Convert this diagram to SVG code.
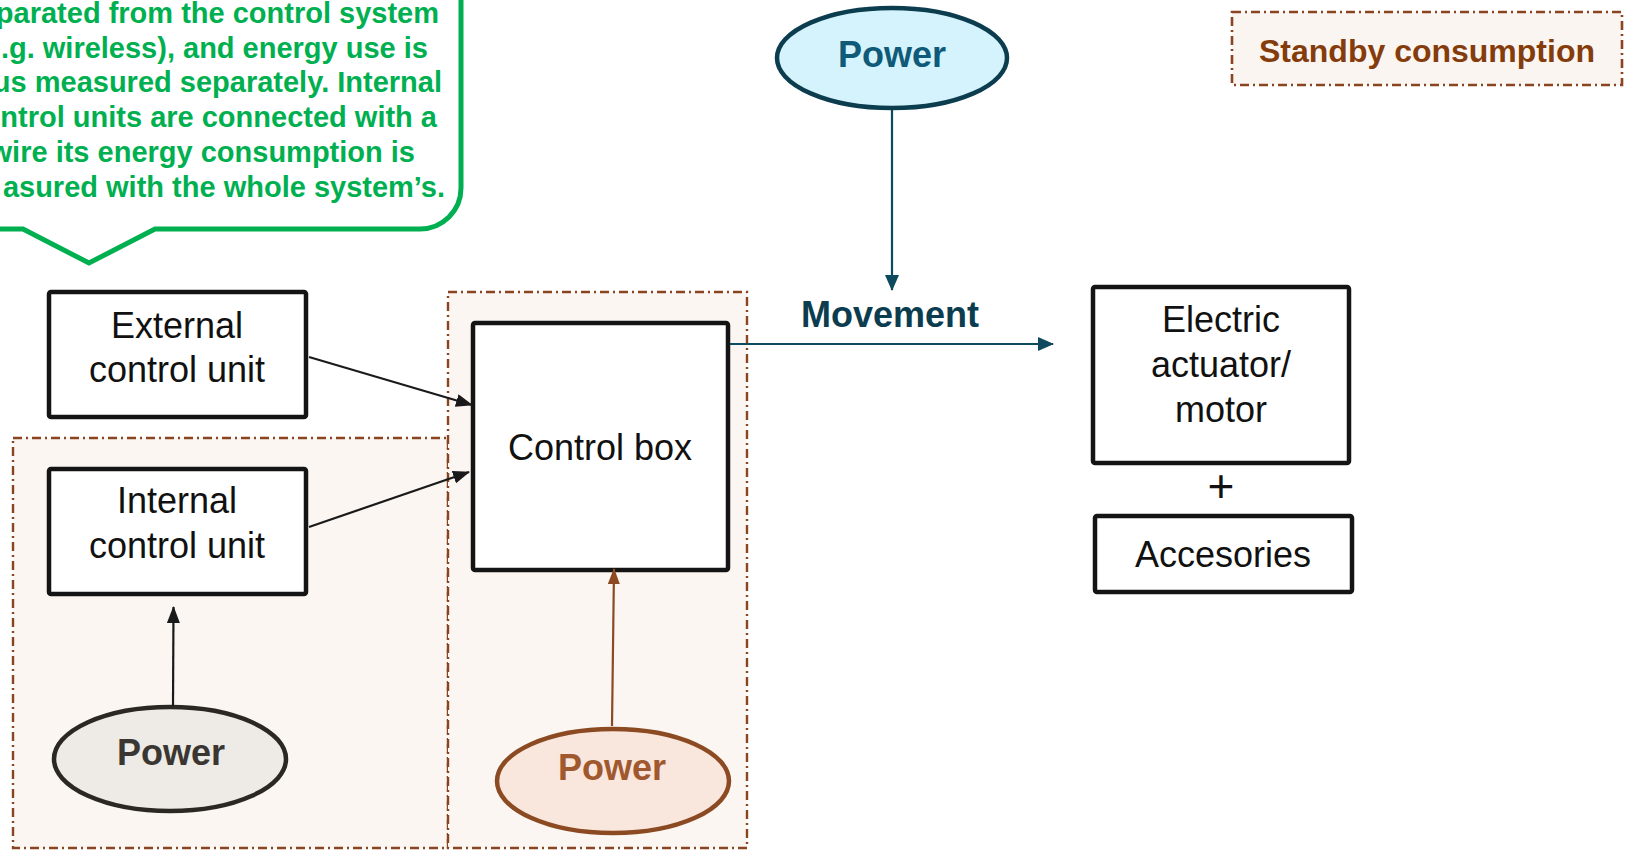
<svg xmlns="http://www.w3.org/2000/svg" width="1629" height="850" viewBox="0 0 1629 850">
  <style>
    .box { fill: #ffffff; stroke: #141414; stroke-width: 4.5; }
    .region { fill: #FBF6F2; stroke: #8A4420; stroke-width: 2.4; stroke-dasharray: 9 4 2 4; }
    .lbl { font-family: "Liberation Sans", Arial, sans-serif; font-size: 36px; fill: #111111; text-anchor: middle; }
    .bold { font-weight: bold; }
    .callout { font-family: "Liberation Sans", Arial, sans-serif; font-size: 29px; font-weight: bold; fill: #00B050; text-anchor: end; }
    .con-black { fill: none; stroke: #1a1a1a; stroke-width: 2.2; }
    .con-teal { fill: none; stroke: #0E4A5E; stroke-width: 2.2; }
    .con-brown { fill: none; stroke: #8B4A22; stroke-width: 2.2; }
  </style>
  <defs>
    <marker id="ah-black" viewBox="0 0 17 13" refX="16" refY="6.5" markerWidth="17" markerHeight="13" markerUnits="userSpaceOnUse" orient="auto">
      <path d="M0,0 L17,6.5 L0,13 z" fill="#1a1a1a"/>
    </marker>
    <marker id="ah-teal" viewBox="0 0 16 14" refX="15" refY="7" markerWidth="16" markerHeight="14" markerUnits="userSpaceOnUse" orient="auto">
      <path d="M0,0 L16,7 L0,14 z" fill="#0E4A5E"/>
    </marker>
    <marker id="ah-brown" viewBox="0 0 16 12" refX="15" refY="6" markerWidth="16" markerHeight="12" markerUnits="userSpaceOnUse" orient="auto">
      <path d="M0,0 L16,6 L0,12 z" fill="#8B4A22"/>
    </marker>
  </defs>

  <rect width="1629" height="850" fill="#ffffff"/>

  <!-- standby regions -->
  <g id="region-internal">
    <rect class="region" x="13" y="438" width="435" height="410"/>
  </g>
  <g id="region-controlbox">
    <rect class="region" x="448" y="292" width="299" height="556"/>
  </g>

  <!-- callout -->
  <g id="callout">
    <path d="M-20,-60 L420,-60 A41,41 0 0 1 461,-19 L461,188 A41,41 0 0 1 420,229 L155,229 L89,263 L23,229 L-20,229 Z" fill="#ffffff" stroke="#00B050" stroke-width="5" stroke-linejoin="miter"/>
    <text class="callout" x="439" y="23">parated from the control system</text>
    <text class="callout" x="428" y="58">.g. wireless), and energy use is</text>
    <text class="callout" x="442" y="92">us measured separately. Internal</text>
    <text class="callout" x="437" y="127">ntrol units are connected with a</text>
    <text class="callout" x="415" y="162">wire its energy consumption is</text>
    <text class="callout" x="445" y="197">asured with the whole system’s.</text>
  </g>

  <!-- legend -->
  <g id="standby-legend">
    <rect x="1232" y="12" width="390" height="73" fill="#FBF5F1" stroke="#8A4420" stroke-width="2.6" stroke-dasharray="9 4 2 4"/>
    <text class="lbl bold" x="1427" y="62" style="font-size:32px; fill:#843C0C">Standby consumption</text>
  </g>

  <!-- nodes -->
  <g id="external-control-unit">
    <rect class="box" x="49" y="292" width="257" height="125" rx="2"/>
    <text class="lbl" x="177" y="338">External</text>
    <text class="lbl" x="177" y="382">control unit</text>
  </g>
  <g id="internal-control-unit">
    <rect class="box" x="49" y="469" width="257" height="125" rx="2"/>
    <text class="lbl" x="177" y="513">Internal</text>
    <text class="lbl" x="177" y="558">control unit</text>
  </g>
  <g id="control-box">
    <rect class="box" x="473" y="323" width="255" height="247" rx="2"/>
    <text class="lbl" x="600" y="460">Control box</text>
  </g>
  <g id="power-top">
    <ellipse cx="892" cy="58" rx="115" ry="50" fill="#D5F3FC" stroke="#0B3D4F" stroke-width="4.5"/>
    <text class="lbl bold" x="892" y="67" style="fill:#0E5A78">Power</text>
  </g>
  <g id="power-internal">
    <ellipse cx="170" cy="759" rx="116" ry="52" fill="#EEEAE5" stroke="#2B2723" stroke-width="4.5"/>
    <text class="lbl bold" x="171" y="765" style="fill:#3A3632">Power</text>
  </g>
  <g id="power-controlbox">
    <ellipse cx="613" cy="781" rx="116" ry="52" fill="#F9E6DD" stroke="#8B4A22" stroke-width="4.5"/>
    <text class="lbl bold" x="612" y="780" style="fill:#A0582E">Power</text>
  </g>
  <g id="movement-label">
    <text class="lbl bold" x="890" y="327" style="fill:#0B3D4F">Movement</text>
  </g>
  <g id="electric-actuator">
    <rect class="box" x="1093" y="287" width="256" height="176" rx="2"/>
    <text class="lbl" x="1221" y="332">Electric</text>
    <text class="lbl" x="1221" y="377">actuator/</text>
    <text class="lbl" x="1221" y="422">motor</text>
  </g>
  <g id="plus">
    <text class="lbl" x="1221" y="502" style="font-size:46px">+</text>
  </g>
  <g id="accesories">
    <rect class="box" x="1095" y="516" width="257" height="76" rx="2"/>
    <text class="lbl" x="1223" y="567">Accesories</text>
  </g>

  <!-- connectors -->
  <g id="connectors">
    <path class="con-black" d="M309,357 L472,405" marker-end="url(#ah-black)"/>
    <path class="con-black" d="M309,527 L469,472" marker-end="url(#ah-black)"/>
    <path class="con-black" d="M173,706 L173.5,607" marker-end="url(#ah-black)"/>
    <path class="con-brown" d="M612,726 L614,569" marker-end="url(#ah-brown)"/>
    <path class="con-teal" d="M892,110 L892,290" marker-end="url(#ah-teal)"/>
    <path class="con-teal" d="M730,344 L1053,344" marker-end="url(#ah-teal)"/>
  </g>
</svg>
